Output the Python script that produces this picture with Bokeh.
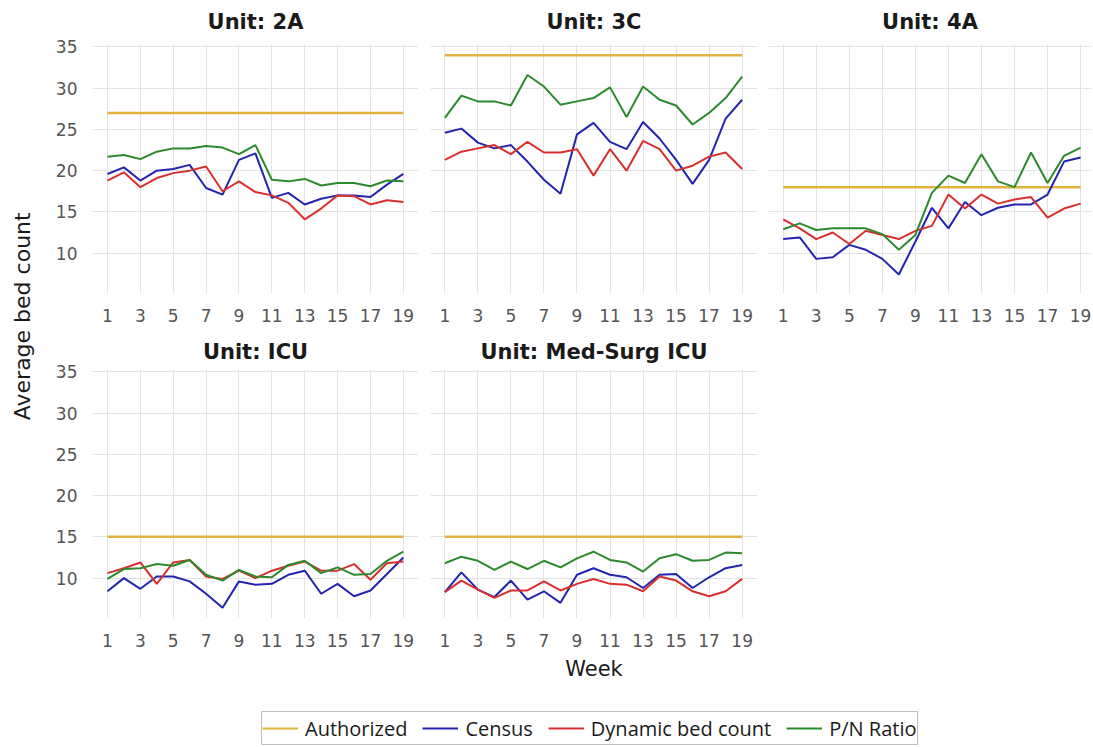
import math
from bokeh.plotting import figure
from bokeh.layouts import row, column
from bokeh.models import Range1d, FixedTicker, Legend, LegendItem, Label
from bokeh.embed import file_html
from bokeh.resources import INLINE

weeks = list(range(1, 20))
x_ticks = list(range(1, 20, 2))
y_ticks = [10, 15, 20, 25, 30, 35]

unit_names = ["2A", "3C", "4A", "ICU", "Med-Surg ICU"]
authorized = [27, 34, 18, 15, 15]

census_2A = [19.6, 20.4, 18.8, 20.0, 20.2, 20.7, 17.9, 17.1, 21.3, 22.1, 16.7, 17.3, 15.9, 16.6, 17.0, 17.0, 16.8, 18.3, 19.6]
dynamic_2A = [18.8, 19.8, 18.0, 19.1, 19.7, 20.0, 20.5, 17.5, 18.7, 17.4, 17.0, 16.1, 14.1, 15.4, 17.0, 16.9, 15.9, 16.4, 16.2]
pn_2A = [21.7, 21.9, 21.4, 22.3, 22.7, 22.7, 23.0, 22.8, 22.0, 23.1, 18.9, 18.7, 19.0, 18.2, 18.5, 18.5, 18.1, 18.8, 18.7]

census_3C = [24.6, 25.1, 23.4, 22.7, 23.1, 21.1, 18.9, 17.2, 24.4, 25.8, 23.5, 22.6, 25.9, 23.9, 21.3, 18.4, 21.3, 26.3, 28.6]
dynamic_3C = [21.3, 22.3, 22.7, 23.1, 22.0, 23.5, 22.2, 22.2, 22.6, 19.4, 22.6, 20.0, 23.6, 22.6, 20.0, 20.6, 21.7, 22.2, 20.2]
pn_3C = [26.4, 29.1, 28.4, 28.4, 27.9, 31.6, 30.2, 28.0, 28.4, 28.8, 30.1, 26.5, 30.2, 28.6, 27.9, 25.6, 27.0, 28.8, 31.4]

census_4A = [11.7, 11.9, 9.3, 9.5, 11.0, 10.4, 9.3, 7.4, 11.4, 15.5, 13.0, 16.2, 14.6, 15.5, 15.9, 15.9, 17.1, 21.1, 21.6]
dynamic_4A = [14.1, 13.0, 11.7, 12.5, 11.1, 12.7, 12.2, 11.7, 12.7, 13.3, 17.1, 15.4, 17.1, 16.0, 16.5, 16.8, 14.3, 15.4, 16.0]
pn_4A = [12.9, 13.6, 12.8, 13.0, 13.0, 13.0, 12.3, 10.4, 12.2, 17.3, 19.4, 18.5, 22.0, 18.7, 18.0, 22.2, 18.5, 21.8, 22.8]

census_ICU = [8.4, 10.0, 8.7, 10.2, 10.2, 9.6, 8.1, 6.4, 9.6, 9.2, 9.3, 10.4, 10.9, 8.1, 9.3, 7.8, 8.5, 10.5, 12.5]
dynamic_ICU = [10.6, 11.2, 11.9, 9.3, 11.9, 12.2, 10.2, 9.9, 10.9, 10.0, 10.9, 11.5, 12.0, 10.9, 10.9, 11.7, 9.8, 11.8, 12.0]
pn_ICU = [9.9, 11.1, 11.2, 11.7, 11.5, 12.2, 10.4, 9.7, 11.0, 10.2, 10.1, 11.6, 12.1, 10.6, 11.3, 10.4, 10.5, 12.1, 13.2]

census_MS = [8.3, 10.7, 8.6, 7.7, 9.7, 7.4, 8.4, 7.0, 10.4, 11.2, 10.4, 10.1, 8.8, 10.4, 10.5, 8.8, 10.1, 11.2, 11.6]
dynamic_MS = [8.3, 9.7, 8.6, 7.6, 8.5, 8.5, 9.6, 8.5, 9.3, 9.9, 9.3, 9.2, 8.4, 10.2, 9.7, 8.4, 7.8, 8.4, 9.9]
pn_MS = [11.8, 12.6, 12.1, 11.0, 12.0, 11.1, 12.1, 11.3, 12.4, 13.2, 12.2, 11.9, 10.8, 12.4, 12.9, 12.1, 12.2, 13.1, 13.0]

series_names = ["Authorized", "Census", "Dynamic bed count", "P/N Ratio"]
colors = ["#e3b23c", "#2424b0", "#d9302f", "#2b8a2b"]

FONT = "DejaVu Sans"
FH = 250
Y_RANGE = (5.1, 35.3)


def make_panel(title, auth, census, dynamic, pn, xr, fw, bl, br, bt, bb,
               show_y, xlabel, t_standoff):
    p = figure(width=bl + fw + br, height=bt + FH + bb,
               x_range=Range1d(*xr), y_range=Range1d(*Y_RANGE),
               output_backend="svg", toolbar_location=None,
               min_border_left=bl, min_border_right=br,
               min_border_top=bt, min_border_bottom=bb)
    p.outline_line_color = None
    p.background_fill_color = "white"
    p.title.text = title
    p.title.align = "center"
    p.title.vertical_align = "top"
    p.title.text_font = FONT
    p.title.text_font_style = "bold"
    p.title.text_font_size = "21px"
    p.title.text_line_height = 1.0
    p.title.text_color = "#1a1a1a"
    p.title.standoff = t_standoff

    p.xaxis.ticker = FixedTicker(ticks=x_ticks)
    p.yaxis.ticker = FixedTicker(ticks=y_ticks)
    p.xgrid.ticker = FixedTicker(ticks=x_ticks)
    p.ygrid.ticker = FixedTicker(ticks=y_ticks)
    p.grid.grid_line_color = "#e3e3e3"
    p.grid.grid_line_width = 1

    for ax in p.axis:
        ax.axis_line_color = None
        ax.major_tick_line_color = None
        ax.minor_tick_line_color = None
        ax.major_label_text_font = FONT
        ax.major_label_text_font_size = "17px"
        ax.major_label_text_color = "#555555"
        ax.major_label_standoff = 9
    if not show_y:
        p.yaxis.visible = False
    if xlabel:
        p.xaxis.axis_label = xlabel
        p.xaxis.axis_label_text_font = FONT
        p.xaxis.axis_label_text_font_size = "21px"
        p.xaxis.axis_label_text_font_style = "normal"
        p.xaxis.axis_label_text_color = "#1a1a1a"
        p.xaxis.axis_label_standoff = 7

    p.line(weeks, [auth] * len(weeks), line_color=colors[0], line_width=2.5)
    p.line(weeks, census, line_color=colors[1], line_width=2)
    p.line(weeks, dynamic, line_color=colors[2], line_width=2)
    p.line(weeks, pn, line_color=colors[3], line_width=2)
    return p


f1 = make_panel("Unit: " + unit_names[0], authorized[0], census_2A, dynamic_2A, pn_2A,
                (0.09, 19.92), 326, 54, 5, 43, 43, True, None, 18)
f2 = make_panel("Unit: " + unit_names[1], authorized[1], census_3C, dynamic_3C, pn_3C,
                (0.13, 19.93), 327, 7, 5, 43, 43, False, None, 18)
f3 = make_panel("Unit: " + unit_names[2], authorized[2], census_4A, dynamic_4A, pn_4A,
                (0.11, 19.66), 323, 6, 0, 43, 43, False, None, 18)
f4 = make_panel("Unit: " + unit_names[3], authorized[3], census_ICU, dynamic_ICU, pn_ICU,
                (0.09, 19.92), 326, 54, 5, 32, 70, True, None, 7)
f5 = make_panel("Unit: " + unit_names[4], authorized[4], census_MS, dynamic_MS, pn_MS,
                (0.13, 19.93), 327, 7, 5, 32, 70, False, "Week", 7)

# y-axis label figure
ylab = figure(width=38, height=336 + 352, x_range=Range1d(0, 1), y_range=Range1d(0, 1),
              x_axis_type=None, y_axis_type=None, output_backend="svg",
              toolbar_location=None, min_border=0)
ylab.outline_line_color = None
ylab.grid.visible = False
ylab.add_layout(Label(x=0.58, y=0.541, text="Average bed count", angle=math.pi / 2,
                      text_align="center", text_baseline="middle",
                      text_font=FONT, text_font_size="22px", text_color="#1a1a1a"))

# legend figure (series drawn outside its visible range so only the legend shows)
leg = figure(width=1053, height=57, x_range=Range1d(-3, -2), y_range=Range1d(-3, -2),
             x_axis_type=None, y_axis_type=None, output_backend="svg",
             toolbar_location=None, min_border=0)
leg.outline_line_color = None
leg.grid.visible = False
leg_series = [[authorized[0]] * len(weeks), census_2A, dynamic_2A, pn_2A]
items = []
for name, c, ys in zip(series_names, colors, leg_series):
    r = leg.line(weeks, ys, line_color=c, line_width=2)
    items.append(LegendItem(label=name, renderers=[r]))
legend = Legend(items=items, orientation="horizontal", location=(223, 0),
                padding=0, margin=0, spacing=15, label_standoff=7,
                glyph_width=36, glyph_height=32, label_height=32,
                label_text_font="Open Sans", label_text_font_size="20px",
                label_text_color="#1a1a1a",
                border_line_color="#7f7f7f", border_line_width=1.5,
                background_fill_color="white", background_fill_alpha=1)
leg.add_layout(legend)

layout = row(ylab, column(row(f1, f2, f3), row(f4, f5), leg))

open("out.html", "w").write(file_html(layout, INLINE))
